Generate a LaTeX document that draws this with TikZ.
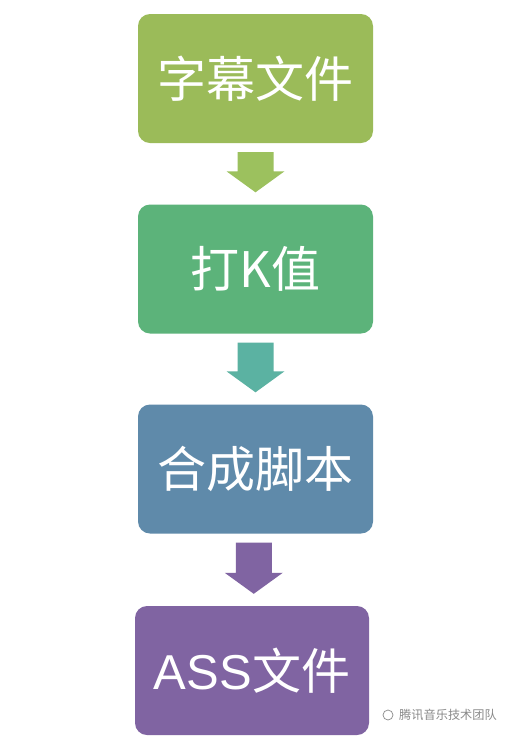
\documentclass[tikz,border=0pt]{standalone}
\usepackage{fontspec}
\setmainfont{Liberation Sans}
\newfontfamily\cjk{Noto Sans CJK SC}
\usetikzlibrary{calc}
\definecolor{cA}{HTML}{9BBB59}
\definecolor{cB}{HTML}{5CB37A}
\definecolor{cC}{HTML}{5F8AAA}
\definecolor{cD}{HTML}{8064A2}
\definecolor{aA}{HTML}{9CC15E}
\definecolor{aB}{HTML}{5BB2A2}
\definecolor{aC}{HTML}{8064A2}
\definecolor{wm}{HTML}{8A8A8A}
\tikzset{
  stepbox/.style={rounded corners=12pt, minimum width=235pt, minimum height=129pt,
    inner sep=0pt, text=white, font=\fontsize{49}{52}\selectfont},
}
\newcommand\blkarrow[3]{%
  \coordinate (mid) at ($(#1.south)!.5!(#2.north)$);
  \coordinate (top) at (mid |- #1.south);
  \coordinate (tip) at (mid |- #2.north);
  \fill[#3] ($(top)+(-18,9)$) -- ($(top)+(18,9)$) --
    ($(tip)+(18,-33)$) -- ($(tip)+(29,-33)$) --
    ($(tip)+(0,-12)$) --
    ($(tip)+(-29,-33)$) -- ($(tip)+(-18,-33)$) -- cycle;}
\begin{document}
\begin{tikzpicture}[x=1pt,y=-1pt]
\useasboundingbox[fill=white] (0,0) rectangle (512,740);
\node[stepbox, fill=cA] (b1) at (255.5,78.5) {\raisebox{2pt}{\cjk 字幕文件}};
\node[stepbox, fill=cB] (b2) at (255.5,269) {\cjk 打K值};
\node[stepbox, fill=cC] (b3) at (255.5,469) {\cjk 合成脚本};
\node[stepbox, fill=cD, minimum width=234pt] (b4) at (252,670.5) {ASS\cjk 文件};
\blkarrow{b1}{b2}{aA}
\blkarrow{b2}{b3}{aB}
\blkarrow{b3}{b4}{aC}
\node[text=wm, font=\cjk\fontsize{12.2}{13}\selectfont, anchor=west, inner sep=0pt] (wmt) at (399,715) {腾讯音乐技术团队};
\draw[wm, line width=0.7pt] (388,715) circle (5pt);
\end{tikzpicture}
\end{document}
